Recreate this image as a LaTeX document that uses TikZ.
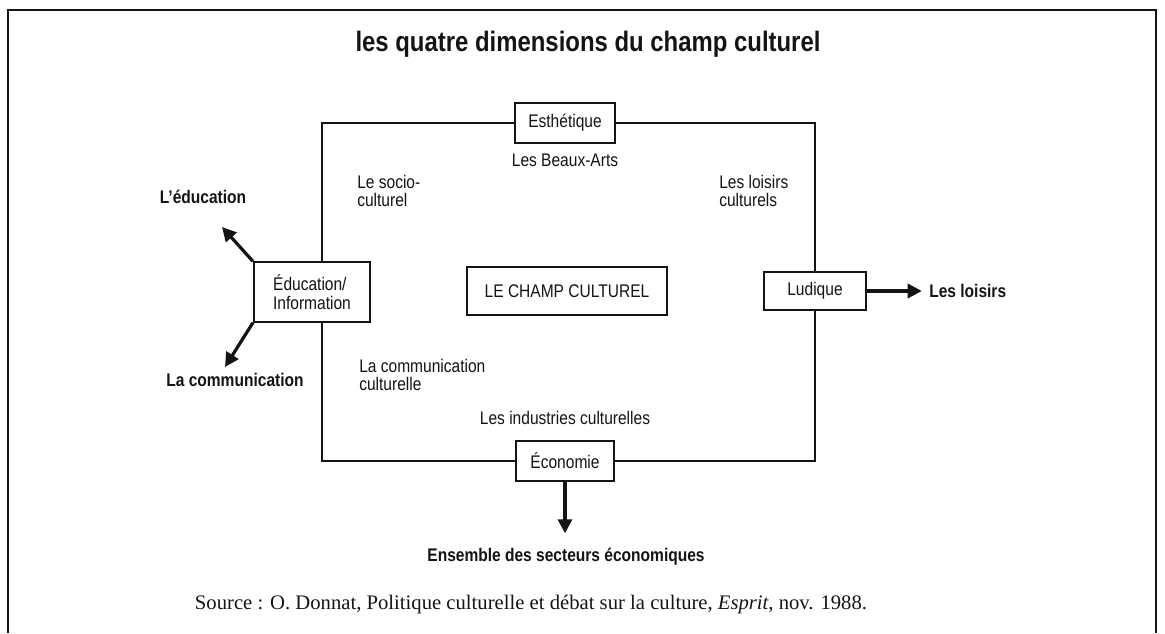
\documentclass[tikz,border=0pt]{standalone}
\usepackage{fontspec}
\setmainfont{Liberation Serif}
\newfontfamily\labelfont{Liberation Sans}[FakeStretch=0.85]
\usepackage{tikz}
\usetikzlibrary{arrows.meta, positioning}
\usepackage{xcolor}
\definecolor{cInk}{RGB}{20,20,20}
\tikzset{
  dimbox/.style={rectangle, draw=cInk, line width=1.5pt, fill=white,
                 align=left, inner sep=0pt, text=cInk,
                 font=\labelfont\fontsize{13}{14}\selectfont},
  zonelabel/.style={align=left, inner sep=0pt, text=cInk,
                    font=\labelfont\fontsize{13}{13}\selectfont},
  outlabel/.style={align=left, inner sep=0pt, text=cInk,
                   font=\labelfont\bfseries\fontsize{13}{13}\selectfont},
  titlelabel/.style={inner sep=0pt, text=cInk,
                     font=\labelfont\bfseries\fontsize{20}{24}\selectfont},
  sourcelabel/.style={inner sep=0pt, text=cInk,
                      font=\fontsize{14.7}{17}\selectfont},
  frameline/.style={line width=1.5pt, draw=cInk},
  outarrow/.style={-{Triangle[length=10pt, width=10pt]}, line width=2.3pt,
                   draw=cInk}
}

\begin{document}
\begin{tikzpicture}[x=0.025cm, y=-0.025cm]
  \useasboundingbox (0,0) rectangle (1165,633);
  % outer frame, open at the bottom
  \draw[frameline] (8,633) -- (8,10) -- (1156,10) -- (1156,633);
  \node[titlelabel] (title) at (588,44) {les quatre dimensions du champ culturel};

  % the four dimensions
  \node[dimbox, minimum width=2.5cm, minimum height=1.0cm] (esth) at (565,123) {Esthétique};
  \node[dimbox, minimum width=2.45cm, minimum height=0.98cm] (eco) at (565,461) {Économie};
  \node[dimbox, minimum width=2.55cm, minimum height=0.95cm] (lud) at (815,291) {Ludique};
  \node[dimbox, minimum width=2.9cm, minimum height=1.48cm] (edu) at (312,292) {Éducation/\\Information};
  \node[dimbox, minimum width=5.0cm, minimum height=1.2cm] (champ) at (567,291) {LE CHAMP CULTUREL};

  \coordinate (tl) at (322,123);
  \coordinate (tr) at (815,123);
  \coordinate (br) at (815,461);
  \coordinate (bl) at (322,461);
  \draw[frameline] (esth) -- (tl) -- (tl |- edu.north);
  \draw[frameline] (tl |- edu.south) -- (bl) -- (eco);
  \draw[frameline] (eco) -- (br) -- (lud);
  \draw[frameline] (lud) -- (tr) -- (esth);

  % sectors inside the field
  \node[zonelabel, below=0.25cm of esth] (beaux) {Les Beaux-Arts};
  \node[zonelabel, anchor=west] (socio) at (357,191) {Le socio-\\culturel};
  \node[zonelabel, anchor=west] (loisc) at (719,191) {Les loisirs\\culturels};
  \node[zonelabel, anchor=west] (commc) at (359,375) {La communication\\culturelle};
  \node[zonelabel, above=0.38cm of eco] (indus) {Les industries culturelles};

  % outward arrows
  \node[outlabel] (leduc) at (203,197) {L’éducation};
  \node[outlabel] (lcomm) at (235,380) {La communication};
  \node[outlabel, anchor=west] (loisirs) at (929,291) {Les loisirs};
  \node[outlabel] (ensemble) at (566,557) {Ensemble des secteurs économiques};
  \coordinate (edutip) at (222,227);
  \coordinate (commtip) at (225,367);
  \draw[outarrow] (edu.north west) -- (edutip);
  \draw[outarrow] (edu.south west) -- (commtip);
  \draw[outarrow, shorten >=0.18cm] (lud) -- (loisirs);
  \draw[outarrow, shorten >=0.37cm] (eco.south) -- (eco.south |- ensemble.north);

  \node[sourcelabel] (source) at (531,605)
      {Source : O. Donnat, Politique culturelle et débat sur la culture, \textit{Esprit}, nov. 1988.};
\end{tikzpicture}
\end{document}
